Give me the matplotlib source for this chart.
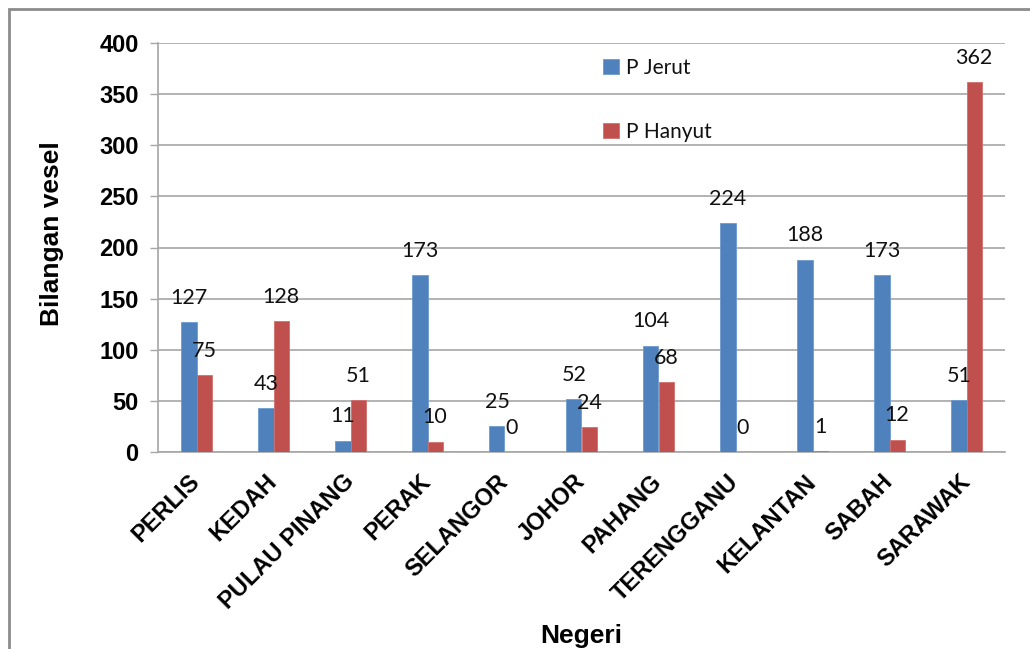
import matplotlib
matplotlib.use("Agg")
import matplotlib.pyplot as plt
import numpy as np
from matplotlib.patches import Rectangle

categories = ["PERLIS", "KEDAH", "PULAU PINANG", "PERAK", "SELANGOR", "JOHOR",
              "PAHANG", "TERENGGANU", "KELANTAN", "SABAH", "SARAWAK"]
p_jerut = [127, 43, 11, 173, 25, 52, 104, 224, 188, 173, 51]
p_hanyut = [75, 128, 51, 10, 0, 24, 68, 0, 1, 12, 362]
series_names = ["P Jerut", "P Hanyut"]
yticks = [0, 50, 100, 150, 200, 250, 300, 350, 400]

BLUE = "#4F81BD"
RED = "#C0504D"
GRID = "#A6A6A6"

W, H = 1030, 649
fig = plt.figure(figsize=(W / 100, H / 100), dpi=100)
ax = fig.add_axes([158 / W, 1 - 452 / H, (1005 - 158) / W, (452 - 43) / H])

# figure border
fig.patches.append(Rectangle((9 / W, -0.1), 1.2, (1 - 9 / H) + 0.1, transform=fig.transFigure,
                             fill=False, edgecolor="#8C8C8C", linewidth=2))

x = np.arange(len(categories))
w = 0.195
b1 = ax.bar(x - w / 2, p_jerut, w, color=BLUE, edgecolor="#6F9AD0", linewidth=0.6,
            label=series_names[0], zorder=3)
b2 = ax.bar(x + w / 2, p_hanyut, w, color=RED, edgecolor="#D06F6C", linewidth=0.6,
            label=series_names[1], zorder=3)

lab_font = dict(family="Lato", fontsize=15.5, color="#111111")
for bars, vals in ((b1, p_jerut), (b2, p_hanyut)):
    for r, v in zip(bars, vals):
        ax.annotate(str(v), (r.get_x() + r.get_width() / 2, v), xytext=(0, 17.5),
                    textcoords="offset points", ha="center", va="center",
                    zorder=5, **lab_font)

ax.set_xlim(-0.5, len(categories) - 0.5)
ax.set_ylim(0, 400)
ax.set_yticks(yticks)
ax.set_yticklabels([str(t) for t in yticks], family="Liberation Sans", fontweight="bold",
                   fontsize=17)
ax.tick_params(axis="y", length=6, color=GRID, width=1, pad=8)
ax.set_xticks(x)
ax.set_xticklabels(categories, rotation=45, ha="right", va="center", rotation_mode="anchor",
                   family="Liberation Sans", fontweight="bold", fontsize=17)
ax.tick_params(axis="x", length=0, pad=19)

ax.grid(axis="y", color=GRID, linewidth=1.2, zorder=0)
ax.set_axisbelow(True)
for s in ("top", "right"):
    ax.spines[s].set_visible(False)
for s in ("left", "bottom"):
    ax.spines[s].set_color(GRID)
    ax.spines[s].set_linewidth(1.2)

ax.set_ylabel("Bilangan vesel", family="Liberation Sans", fontweight="bold", fontsize=19)
ax.yaxis.set_label_coords((64 - 158) / 847, (452 - 234) / 409)
ax.set_xlabel("Negeri", family="Liberation Sans", fontweight="bold", fontsize=19)
ax.xaxis.set_label_coords(0.5, (452 - 624) / 409)

leg = ax.legend(loc="upper left", bbox_to_anchor=((603 - 158) / 847, (452 - 58) / 409),
                frameon=False, handlelength=0.75, handleheight=0.75, handletextpad=0.35,
                labelspacing=2.1, borderpad=0, borderaxespad=0,
                prop=dict(family="Lato", size=15))
for t in leg.get_texts():
    t.set_color("#111111")

fig.savefig("out.png", dpi=100)
